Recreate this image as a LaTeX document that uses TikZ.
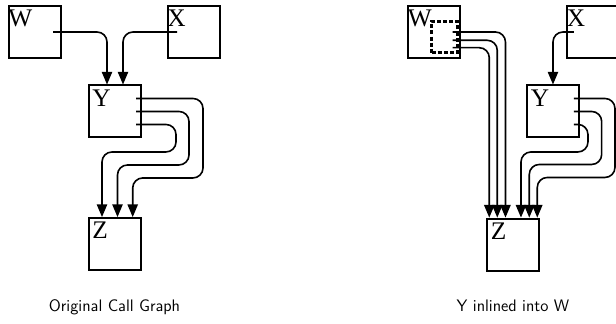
\documentclass[tikz,border=0pt]{standalone}
\usepackage{fontspec}
\newfontfamily\boxfont{Liberation Serif}
\usetikzlibrary{shapes,arrows}
\usetikzlibrary{positioning}
\tikzstyle{func} = [rectangle, draw, line width=1.5pt, minimum size=39pt,
                    inner sep=0pt]
\tikzstyle{inlined} = [rectangle, draw, line width=1.6pt,
                       dash pattern=on 3pt off 1.6pt,
                       minimum width=19.5pt, minimum height=23.3pt, inner sep=0pt]
\tikzstyle{fname} = [anchor=north west, inner sep=0pt, yshift=-3.75pt,
                     font=\boxfont\fontsize{19}{19}\selectfont]
\tikzstyle{call} = [draw, line width=1.2pt, rounded corners=7.5pt, -triangle 45]
\tikzstyle{gcap} = [font=\sffamily\fontsize{12.5}{15}\selectfont]

\begin{document}
\begin{tikzpicture}[x=0.75pt, y=0.75pt, node distance=119.25pt]
  \useasboundingbox (0,0) rectangle (616,-324);

  % Original call graph
  \node [func, label={[fname, xshift=0.5pt]north west:W}] (W) at (34.5,-32) {};
  \node [func, right of=W, label={[fname, xshift=0.5pt]north west:X}] (X) {};
  \node [func, below of=W, node distance=59.6pt, xshift=60pt,
         label={[fname, xshift=3.4pt]north west:Y}] (Y) {};
  \node [func, below of=Y, node distance=99.4pt,
         label={[fname, xshift=3.4pt]north west:Z}] (Z) {};
  \node [gcap, below of=Z, node distance=50.6pt, anchor=base] (orig) {Original Call Graph};

  \coordinate (w-out) at ([shift={(18.5,0)}]W.center);
  \coordinate (x-out) at ([shift={(-16.5,0)}]X.center);
  \path [call] (w-out) -| ([shift={(-7.5,0)}]Y.north);
  \path [call] (x-out) -| ([shift={(8.5,0)}]Y.north);

  \coordinate (y-out1) at ([shift={(21.5,13)}]Y.center);
  \coordinate (y-out2) at ([shift={(21.5,0)}]Y.center);
  \coordinate (y-out3) at ([shift={(21.5,-13)}]Y.center);
  \coordinate (y-turn1) at ([shift={(88.5,-66.5)}]Y.center);
  \coordinate (y-turn2) at ([shift={(74.5,-53.5)}]Y.center);
  \coordinate (y-turn3) at ([shift={(61.5,-40.5)}]Y.center);
  \path [call] (y-out1) -| (y-turn1) -| ([shift={(18.2,0)}]Z.north);
  \path [call] (y-out2) -| (y-turn2) -| ([shift={(3,0)}]Z.north);
  \path [call] (y-out3) -| (y-turn3) -| ([shift={(-12.5,0)}]Z.north);

  % Y inlined into W
  \node [func, right of=W, node distance=299.6pt,
         label={[fname, xshift=0.5pt]north west:W}] (W2) {};
  \node [inlined, at=(W2), xshift=7.9pt, yshift=-3.75pt] (body) {};
  \node [func, right of=W2, label={[fname, xshift=0.5pt]north west:X}] (X2) {};
  \node [func, below of=W2, node distance=59.6pt, xshift=89.25pt,
         label={[fname, xshift=3.4pt]north west:Y}] (Y2) {};
  \node [func, below of=W2, node distance=159.4pt, xshift=59.25pt,
         label={[fname, xshift=3.4pt]north west:Z}] (Z2) {};
  \node [gcap, below of=Z2, node distance=50.25pt, anchor=base] (inl) {Y inlined into W};

  \coordinate (w2-out1) at ([shift={(18.7,0)}]W2.center);
  \coordinate (w2-out2) at ([shift={(18.7,-8.3)}]W2.center);
  \coordinate (w2-out3) at ([shift={(18.7,-15.7)}]W2.center);
  \path [call] (w2-out1) -| ([shift={(-7.5,0)}]Z2.north);
  \path [call] (w2-out2) -| ([shift={(-15.7,0)}]Z2.north);
  \path [call] (w2-out3) -| ([shift={(-23.7,0)}]Z2.north);

  \coordinate (x2-out) at ([shift={(-19,0)}]X2.center);
  \path [call] (x2-out) -| (Y2.north);

  \coordinate (y2-out1) at ([shift={(21,13)}]Y2.center);
  \coordinate (y2-out2) at ([shift={(21,0)}]Y2.center);
  \coordinate (y2-out3) at ([shift={(21,-13)}]Y2.center);
  \coordinate (y2-turn1) at ([shift={(62,-66)}]Y2.center);
  \coordinate (y2-turn2) at ([shift={(48.7,-53)}]Y2.center);
  \coordinate (y2-turn3) at ([shift={(35,-40.5)}]Y2.center);
  \path [call] (y2-out1) -| (y2-turn1) -| ([shift={(24.3,0)}]Z2.north);
  \path [call] (y2-out2) -| (y2-turn2) -| ([shift={(16.3,0)}]Z2.north);
  \path [call] (y2-out3) -| (y2-turn3) -| ([shift={(8,0)}]Z2.north);
\end{tikzpicture}
\end{document}
